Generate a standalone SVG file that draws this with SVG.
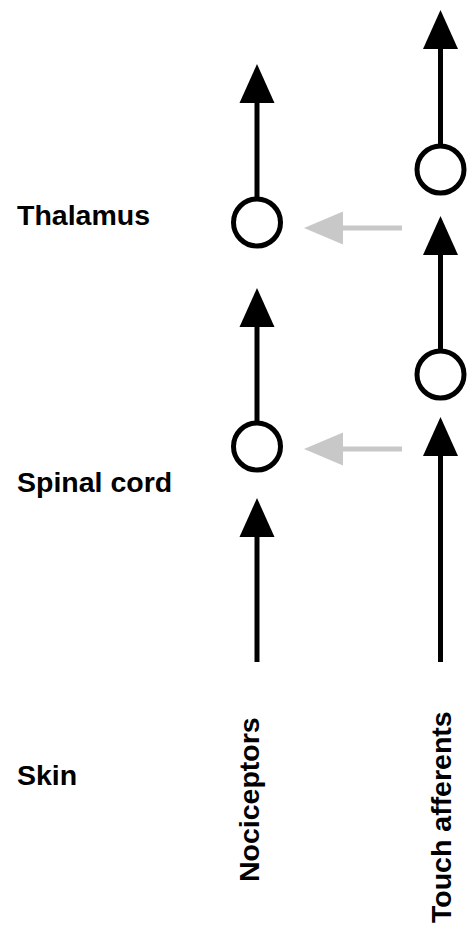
<svg xmlns="http://www.w3.org/2000/svg" width="467" height="928" viewBox="0 0 467 928">
<style>
.lbl{font-family:"Liberation Sans",Arial,sans-serif;font-weight:bold;font-size:28.5px;fill:#000}
.ax{stroke:#000;stroke-width:5;fill:none}
.inh{stroke:#c8c8c8;stroke-width:5;fill:none}
.cell{fill:#fff;stroke:#000;stroke-width:5}
</style>
<defs>
<marker id="ahB" viewBox="0 -18 40 36" markerWidth="40" markerHeight="36" refX="1" refY="0" orient="auto" markerUnits="userSpaceOnUse">
<path d="M0,-17.5 L39,0 L0,17.5 Z" fill="#000"/>
</marker>
<marker id="ahG" viewBox="0 -18 40 36" markerWidth="40" markerHeight="36" refX="1" refY="0" orient="auto" markerUnits="userSpaceOnUse">
<path d="M0,-16.5 L39,0 L0,16.5 Z" fill="#c8c8c8"/>
</marker>
</defs>
<g id="labels">
<text class="lbl" x="17" y="225">Thalamus</text>
<text class="lbl" x="17" y="492">Spinal cord</text>
<text class="lbl" x="17" y="785">Skin</text>
<text class="lbl" transform="translate(259,882) rotate(-90)" font-size="28">Nociceptors</text>
<text class="lbl" transform="translate(451,923) rotate(-90)" font-size="28">Touch afferents</text>
</g>
<g id="connectors">
<line class="ax" x1="257" y1="662" x2="257" y2="536" marker-end="url(#ahB)"/>
<line class="ax" x1="257" y1="421" x2="257" y2="326" marker-end="url(#ahB)"/>
<line class="ax" x1="257" y1="197" x2="257" y2="102" marker-end="url(#ahB)"/>
<line class="ax" x1="440.5" y1="662" x2="440.5" y2="455" marker-end="url(#ahB)"/>
<line class="ax" x1="440.5" y1="349" x2="440.5" y2="254" marker-end="url(#ahB)"/>
<line class="ax" x1="440.5" y1="144" x2="440.5" y2="48" marker-end="url(#ahB)"/>
<line class="inh" x1="402" y1="449" x2="342" y2="449" marker-end="url(#ahG)"/>
<line class="inh" x1="402" y1="228" x2="342" y2="228" marker-end="url(#ahG)"/>
</g>
<g id="spinal-nociceptor-relay"><circle class="cell" cx="257" cy="446.5" r="23.5"/></g>
<g id="thalamus-nociceptor-relay"><circle class="cell" cx="257" cy="222.5" r="23.5"/></g>
<g id="touch-relay-lower"><circle class="cell" cx="440.5" cy="374.5" r="23.5"/></g>
<g id="touch-relay-upper"><circle class="cell" cx="440.5" cy="169.5" r="23.5"/></g>
</svg>
